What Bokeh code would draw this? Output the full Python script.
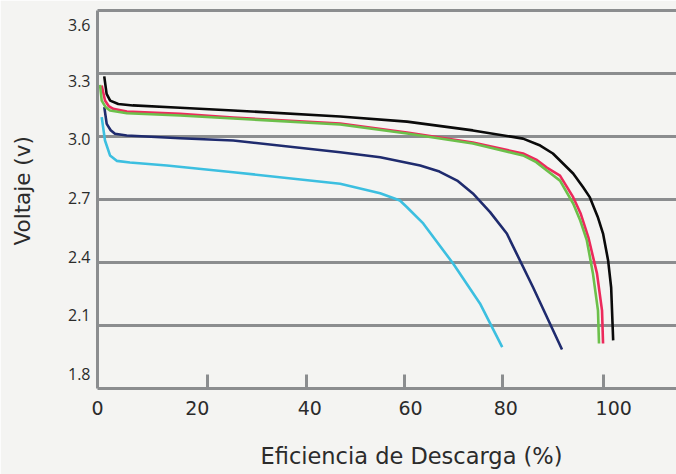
from bokeh.plotting import figure
from bokeh.models import Range1d, LinearAxis, FixedTicker, Title, CustomJSTickFormatter
from bokeh.embed import file_html
from bokeh.resources import INLINE

# ---- data ----
black_x = [1.33, 1.8, 2.5, 4.1, 7.0, 16.3, 26.8, 47.9, 61.1, 74.1, 84.0, 87.4, 89.9, 93.9, 95.9, 97.2, 98.8, 99.8, 100.8, 101.4, 101.8]
black_y = [3.286, 3.203, 3.171, 3.155, 3.148, 3.137, 3.124, 3.095, 3.071, 3.029, 2.990, 2.957, 2.919, 2.824, 2.757, 2.710, 2.614, 2.538, 2.410, 2.281, 2.029]

red_x = [0.83, 1.48, 2.2, 3.1, 5.8, 16.3, 26.8, 47.9, 61.1, 74.1, 84.0, 86.6, 88.7, 91.3, 93.9, 95.4, 96.9, 98.6, 99.6, 99.8]
red_y = [3.243, 3.171, 3.145, 3.132, 3.119, 3.108, 3.090, 3.062, 3.019, 2.971, 2.919, 2.890, 2.852, 2.814, 2.711, 2.632, 2.520, 2.348, 2.171, 2.014]

green_x = [0.5, 0.83, 1.6, 2.47, 5.8, 16.3, 26.8, 47.9, 61.1, 74.1, 84.0, 86.6, 88.7, 91.3, 93.9, 95.3, 96.6, 97.8, 98.8, 99.0]
green_y = [3.246, 3.171, 3.140, 3.124, 3.111, 3.100, 3.086, 3.057, 3.014, 2.967, 2.910, 2.878, 2.838, 2.790, 2.681, 2.600, 2.505, 2.348, 2.171, 2.014]

navy_x = [1.34, 1.82, 2.6, 3.45, 5.77, 16.3, 26.8, 47.9, 55.8, 63.7, 67.5, 71.0, 74.1, 77.5, 80.8, 86.0, 91.7]
navy_y = [3.140, 3.060, 3.030, 3.013, 3.005, 2.992, 2.981, 2.925, 2.901, 2.862, 2.833, 2.790, 2.729, 2.640, 2.538, 2.281, 1.986]

cyan_x = [0.83, 1.48, 2.47, 3.79, 6.4, 13.7, 26.8, 47.9, 55.8, 59.7, 61.1, 64.3, 70.2, 75.5, 79.9]
cyan_y = [3.092, 2.981, 2.910, 2.884, 2.876, 2.862, 2.830, 2.775, 2.730, 2.695, 2.663, 2.586, 2.395, 2.205, 1.997]

x_tick_labels = ["0", "20", "40", "60", "80", "100"]
y_tick_labels = ["1.8", "2.1", "2.4", "2.7", "3.0", "3.3", "3.6"]
grid_values = [2.1, 2.4, 2.7, 3.0, 3.3]

# ---- layout (positions of marks and labels as drawn in the reference) ----
x_tick_mark_pos = [21.7, 41.2, 60.6, 80.0, 99.9]
x_label_pos = [0.0, 19.7, 41.9, 61.8, 80.6, 101.9]
y_label_pos = [1.871, 2.148, 2.424, 2.705, 2.990, 3.262, 3.533]

BG = "#f4f4f2"
GRID = "#8b8d8f"
TXT = "#2b2b2b"
TITLE_FONT = "DejaVu Sans"


def spacer(size, ticks):
    # an axis with invisible ticks and no labels that only reserves room in a side panel
    return LinearAxis(ticker=FixedTicker(ticks=ticks), axis_line_color=None,
                      formatter=CustomJSTickFormatter(code="return ''"),
                      major_tick_line_color=None, minor_tick_line_color=None,
                      major_tick_in=0, major_tick_out=size, minor_tick_out=0,
                      major_label_standoff=0, major_label_text_font_size="0px")


p = figure(width=676, height=474,
           x_range=Range1d(0, 114.3), y_range=Range1d(1.8, 3.6),
           output_backend="svg", toolbar_location=None,
           x_axis_location=None, y_axis_location=None,
           min_border_left=97, min_border_right=0,
           min_border_top=10, min_border_bottom=86,
           background_fill_color=BG, border_fill_color=BG,
           outline_line_color=None)

p.xgrid.visible = False
p.ygrid.ticker = FixedTicker(ticks=grid_values)
p.ygrid.grid_line_color = GRID
p.ygrid.grid_line_width = 3

# top frame line
top = LinearAxis(ticker=FixedTicker(ticks=[]), axis_line_color=GRID, axis_line_width=3,
                 major_tick_line_color=None, minor_tick_line_color=None,
                 major_tick_out=0, minor_tick_out=0,
                 major_label_standoff=0, major_label_text_font_size="0px")
p.add_layout(top, "above")

# left axis
yax = LinearAxis(ticker=FixedTicker(ticks=y_label_pos),
                 formatter=CustomJSTickFormatter(args=dict(labels=y_tick_labels), code="return labels[index]"),
                 axis_line_color=GRID, axis_line_width=3,
                 major_tick_line_color=None, minor_tick_line_color=None,
                 major_tick_out=0, minor_tick_out=0,
                 major_label_standoff=7,
                 major_label_text_font="Open Sans", major_label_text_font_size="16px",
                 major_label_text_color=TXT)
p.add_layout(yax, "left")
p.add_layout(spacer(30, y_label_pos), "left")
p.add_layout(Title(text="Voltaje (v)", align="left", offset=143, standoff=0,
                   text_font=TITLE_FONT, text_font_size="21.5px", text_font_style="normal",
                   text_color=TXT), "left")

# bottom axis: line + inward tick marks
xticks = LinearAxis(ticker=FixedTicker(ticks=x_tick_mark_pos),
                    formatter=CustomJSTickFormatter(code="return ''"),
                    axis_line_color=GRID, axis_line_width=3,
                    major_tick_in=14, major_tick_out=0,
                    major_tick_line_color=GRID, major_tick_line_width=3,
                    minor_tick_line_color=None,
                    major_label_standoff=0, major_label_text_font_size="0px")
p.add_layout(xticks, "below")

xlabels = LinearAxis(ticker=FixedTicker(ticks=x_label_pos),
                     formatter=CustomJSTickFormatter(args=dict(labels=x_tick_labels), code="return labels[index]"),
                     axis_line_color=None, major_tick_line_color=None, minor_tick_line_color=None,
                     major_label_standoff=6,
                     major_label_text_font=TITLE_FONT, major_label_text_font_size="19px",
                     major_label_text_color=TXT)
p.add_layout(xlabels, "below")
p.add_layout(spacer(23, x_label_pos), "below")
p.add_layout(Title(text="Eficiencia de Descarga (%)", align="left", offset=163, standoff=0,
                   text_font=TITLE_FONT, text_font_size="22.5px", text_font_style="normal",
                   text_color=TXT), "below")

lw = 2.6
p.line(cyan_x, cyan_y, line_color="#3cbfe0", line_width=lw, line_join="round")
p.line(navy_x, navy_y, line_color="#1f2b6e", line_width=lw, line_join="round")
p.line(red_x, red_y, line_color="#ec2a5c", line_width=lw, line_join="round")
p.line(green_x, green_y, line_color="#6cc04b", line_width=lw, line_join="round")
p.line(black_x, black_y, line_color="#0a0a0a", line_width=lw, line_join="round")

open("out.html", "w").write(file_html(p, INLINE))
